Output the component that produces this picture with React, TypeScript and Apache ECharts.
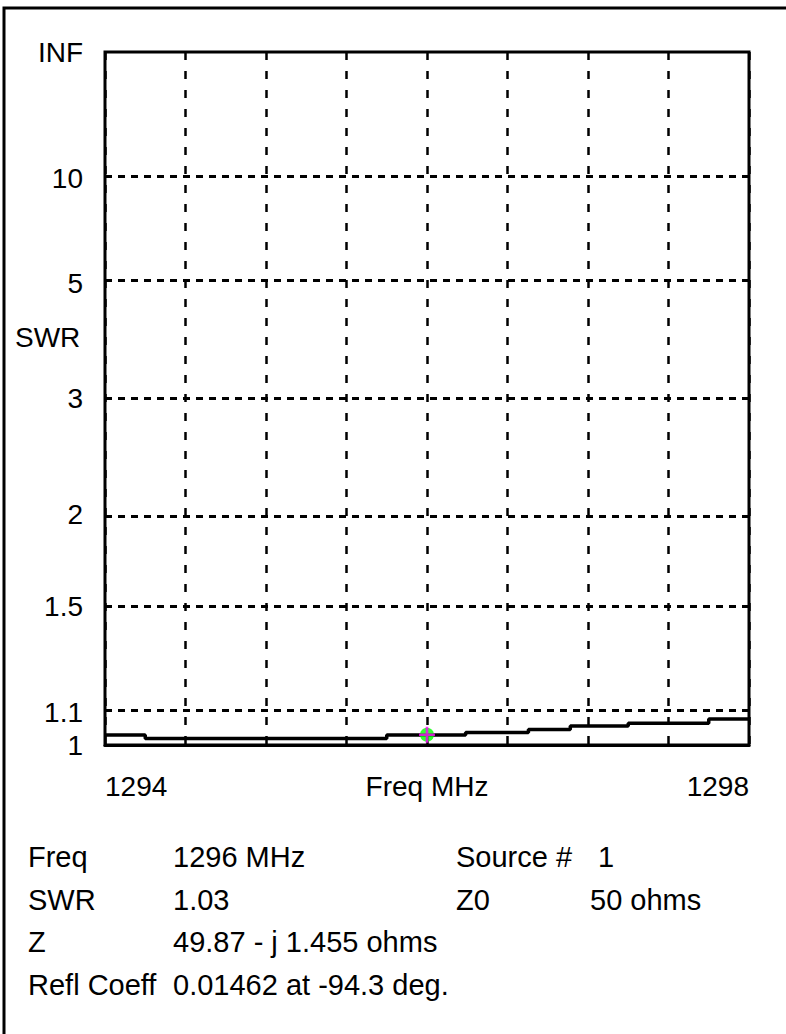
import React, { useEffect, useRef } from "react";
import * as echarts from "echarts";

// Frequency (MHz) and SWR
const freqs = [1294, 1294.25, 1295.75, 1296.24, 1296.63, 1296.89, 1297.25, 1297.75, 1298];
const swrValues = [1.029, 1.019, 1.029, 1.037, 1.046, 1.056, 1.065, 1.078, 1.078];

// Marker point
const markerFreq = 1296;
const markerSwr = 1.03;

// SWR axis ticks
const swrTicks = [1, 1.1, 1.5, 2, 3, 5, 10, Infinity];
const swrTickLabels = ["1", "1.1", "1.5", "2", "3", "5", "10", "INF"];
const swrGridTicks = [1.1, 1.5, 2, 3, 5, 10];

// Frequency axis labels
const freqLabelMap: Record<string, string> = { "1294": "1294", "1296": "Freq MHz", "1298": "1298" };

// Readout table
const infoLeft = [
  ["Freq", "1296 MHz"],
  ["SWR", "1.03"],
  ["Z", "49.87 - j 1.455 ohms"],
  ["Refl Coeff", "0.01462 at -94.3 deg."],
];
const infoRight = [
  ["Source #", "1"],
  ["Z0", "50 ohms"],
];

const FONT = "'Liberation Sans', Arial, sans-serif";

const toRho = (s: number) => (s === Infinity ? 1 : (s - 1) / (s + 1));

export default function App() {
  const ref = useRef<HTMLDivElement>(null);
  useEffect(() => {
    if (!ref.current) return;
    const chart = echarts.init(ref.current, null, { renderer: "svg" });
    const tickRhos = swrTicks.map(toRho);
    const graphics: any[] = [
      {
        type: "polyline",
        shape: { points: [[4, 1034], [4, 8], [786, 8]] },
        style: { stroke: "#000", lineWidth: 3, fill: null },
        silent: true,
      },
      {
        type: "text",
        left: 15,
        top: 323,
        style: { text: "SWR", font: `28px ${FONT}`, fill: "#000" },
      },
    ];
    const rowY = [857, 900, 942, 985];
    const infoFont = `29px ${FONT}`;
    infoLeft.forEach((row, i) => {
      graphics.push({
        type: "text",
        x: 28,
        y: rowY[i],
        style: { text: row[0], font: infoFont, fill: "#000", verticalAlign: "middle" },
      });
      graphics.push({
        type: "text",
        x: 173,
        y: rowY[i],
        style: { text: row[1], font: infoFont, fill: "#000", verticalAlign: "middle" },
      });
    });
    infoRight.forEach((row, i) => {
      graphics.push({
        type: "text",
        x: 456,
        y: rowY[i],
        style: { text: row[0], font: infoFont, fill: "#000", verticalAlign: "middle" },
      });
      graphics.push({
        type: "text",
        x: i === 0 ? 598 : 590,
        y: rowY[i],
        style: { text: row[1], font: infoFont, fill: "#000", verticalAlign: "middle" },
      });
    });

    chart.setOption({
      animation: false,
      backgroundColor: "#fff",
      grid: {
        left: 105,
        top: 52,
        right: 37,
        bottom: 289,
        show: true,
        borderColor: "#000",
        borderWidth: 3,
        backgroundColor: "transparent",
      },
      xAxis: {
        type: "value",
        min: 1294,
        max: 1298,
        interval: 0.5,
        axisLine: { show: true, lineStyle: { color: "#000", width: 3 } },
        axisTick: { show: false },
        splitLine: { show: true, lineStyle: { color: "#000", width: 2.5, type: [8, 11] } },
        axisLabel: {
          show: true,
          margin: 27,
          fontSize: 28,
          fontFamily: FONT,
          color: "#000",
          showMinLabel: true,
          showMaxLabel: true,
          alignMinLabel: "left",
          alignMaxLabel: "right",
          formatter: (v: number) => freqLabelMap[String(Math.round(v * 100) / 100)] ?? "",
        },
      },
      yAxis: {
        type: "value",
        min: 0,
        max: 1,
        axisLine: { show: false },
        axisTick: { show: false },
        splitLine: { show: false },
        axisLabel: {
          show: true,
          customValues: tickRhos,
          margin: 22,
          fontSize: 28,
          fontFamily: FONT,
          color: "#000",
          formatter: (v: number) => {
            const idx = tickRhos.findIndex((r) => Math.abs(r - v) < 1e-6);
            return idx >= 0 ? swrTickLabels[idx] : "";
          },
        },
      },
      graphic: graphics,
      series: [
        {
          type: "line",
          step: "end",
          data: freqs.map((f, i) => [f, toRho(swrValues[i])]),
          symbol: "none",
          lineStyle: { color: "#000", width: 3.5 },
          z: 5,
          markLine: {
            silent: true,
            symbol: "none",
            label: { show: false },
            lineStyle: { color: "#000", width: 3, type: [7, 6] },
            data: swrGridTicks.map((s) => ({ yAxis: toRho(s) })),
          },
        },
        {
          type: "scatter",
          data: [[markerFreq, toRho(markerSwr)]],
          symbol: "circle",
          symbolSize: 14,
          itemStyle: { color: "#00ff00" },
          z: 6,
        },
        {
          type: "scatter",
          data: [[markerFreq, toRho(markerSwr)]],
          symbol: "path://M0,5H12V7H0Z M5,0H7V12H5Z",
          symbolSize: 16,
          itemStyle: { color: "#ff00ff" },
          z: 7,
        },
      ],
    });
    return () => chart.dispose();
  }, []);
  return (
    <div
      ref={ref}
      style={{ position: "fixed", left: 0, top: 0, width: 786, height: 1034, background: "#fff" }}
    />
  );
}
